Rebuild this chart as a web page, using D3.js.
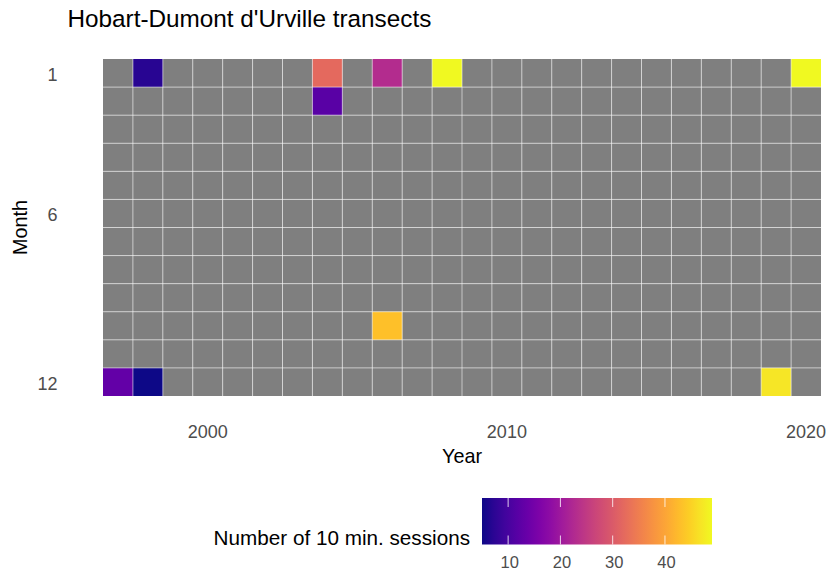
<!DOCTYPE html>
<html><head><meta charset="utf-8">
<script src="https://cdn.jsdelivr.net/npm/d3@7"></script>
<style>body{margin:0;background:#fff;font-family:"Liberation Sans",Arial,sans-serif;}</style>
</head><body><svg id="c" width="829" height="573" font-family="Liberation Sans, Arial, sans-serif"></svg>
<script>
const years = d3.range(1997, 2021);
const months = d3.range(1, 13);
const cellYears  = [1998, 2004, 2006, 2008, 2020, 2004, 2006, 1997, 1998, 2019];
const cellMonths = [1,    1,    1,    1,    1,    2,    10,   12,   12,   12];
const cellValues = [7,    32,   23,   49,   49,   12,   43,   13,   5,    47];
const xTicks = [2000, 2010, 2020];
const yTicks = [1, 6, 12];
const legendTicks = [10, 20, 30, 40];

const svg = d3.select("#c");
const FONT = "Liberation Sans, Arial, sans-serif";
const L = 103, R = 821, T = 59, B = 396;
const x = d3.scaleBand().domain(years).range([L, R]);
const y = d3.scaleBand().domain(months).range([T, B]);
const vmin = 5, vmax = 49;
const color = d3.scaleSequential(d3.interpolatePlasma).domain([vmin, vmax]);

// background NA cells
const all = [];
years.forEach(yr => months.forEach(m => all.push({yr, m})));
svg.append("g").selectAll("rect").data(all).join("rect")
  .attr("x", d => x(d.yr)).attr("y", d => y(d.m))
  .attr("width", x.bandwidth()).attr("height", y.bandwidth())
  .attr("fill", "#7f7f7f");

const data = cellValues.map((v, i) => ({yr: cellYears[i], m: cellMonths[i], v}));
svg.append("g").selectAll("rect").data(data).join("rect")
  .attr("x", d => x(d.yr)).attr("y", d => y(d.m))
  .attr("width", x.bandwidth()).attr("height", y.bandwidth())
  .attr("fill", d => color(d.v));

// grid lines
const grid = svg.append("g").attr("stroke", "#ffffff").attr("stroke-opacity", 0.55).attr("stroke-width", 1);
years.slice(1).forEach(yr => grid.append("line").attr("x1", x(yr)).attr("x2", x(yr)).attr("y1", T).attr("y2", B));
months.slice(1).forEach(m => grid.append("line").attr("x1", L).attr("x2", R).attr("y1", y(m)).attr("y2", y(m)));

// axes
const xAxis = d3.axisBottom(x).tickValues(xTicks).tickSize(0).tickPadding(0);
const gx = svg.append("g").attr("transform", `translate(0,${B + 42})`).call(xAxis);
gx.select(".domain").remove();
gx.attr("font-size", null).attr("font-family", null);
gx.selectAll("text").attr("dy", null).attr("y", 0).style("font-size", "18px").attr("fill", "#4d4d4d").style("font-family", FONT);

const yAxis = d3.axisLeft(y).tickValues(yTicks).tickSize(0).tickPadding(0);
const gy = svg.append("g").attr("transform", `translate(57.5,0)`).call(yAxis);
gy.select(".domain").remove();
gy.attr("font-size", null).attr("font-family", null);
gy.selectAll("text").attr("dy", "0.43em").style("font-size", "18px").attr("fill", "#4d4d4d").style("font-family", FONT);

// titles
svg.append("text").attr("x", 67.5).attr("y", 26.7).style("font-size", "24.3px").attr("fill", "#000").text("Hobart-Dumont d'Urville transects");
svg.append("text").attr("x", (L + R) / 2).attr("y", 463.3).attr("text-anchor", "middle").style("font-size", "19.8px").attr("fill", "#000").text("Year");
svg.append("text").attr("transform", `translate(27.3,${(T + B) / 2}) rotate(-90)`).attr("text-anchor", "middle").style("font-size", "19.8px").attr("fill", "#000").text("Month");

// legend
const lx0 = 482, lx1 = 712, ly0 = 498, ly1 = 544.5;
const defs = svg.append("defs");
const grad = defs.append("linearGradient").attr("id", "lg");
d3.range(0, 1.0001, 0.05).forEach(t => grad.append("stop").attr("offset", t).attr("stop-color", d3.interpolatePlasma(t)));
svg.append("rect").attr("x", lx0).attr("y", ly0).attr("width", lx1 - lx0).attr("height", ly1 - ly0).attr("fill", "url(#lg)");
const lsc = d3.scaleLinear().domain([vmin, vmax]).range([lx0, lx1]);
const lg = svg.append("g");
legendTicks.forEach(t => {
  lg.append("line").attr("x1", lsc(t)).attr("x2", lsc(t)).attr("y1", ly0).attr("y2", ly0 + 9).attr("stroke", "#fff").attr("stroke-opacity", 0.8);
  lg.append("line").attr("x1", lsc(t)).attr("x2", lsc(t)).attr("y1", ly1 - 9).attr("y2", ly1).attr("stroke", "#fff").attr("stroke-opacity", 0.8);
  lg.append("text").attr("x", lsc(t) + 1.5).attr("y", 568).attr("text-anchor", "middle").style("font-size", "16.5px").attr("fill", "#4d4d4d").text(t);
});
svg.append("text").attr("x", 470).attr("y", 545).attr("text-anchor", "end").style("font-size", "20.7px").attr("fill", "#000").text("Number of 10 min. sessions");
</script></body></html>
